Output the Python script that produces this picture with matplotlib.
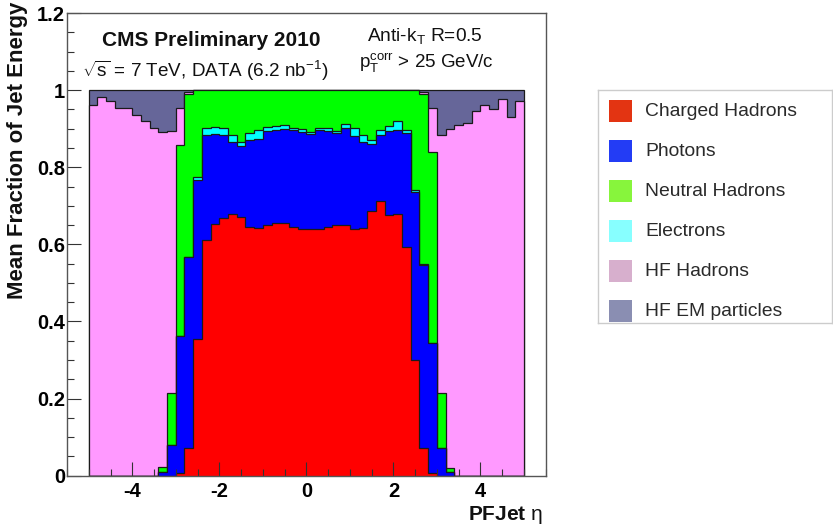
import numpy as np
import matplotlib
matplotlib.use("Agg")
import matplotlib.pyplot as plt
from matplotlib.patches import Rectangle

plt.rcParams['font.family'] = ['Liberation Sans', 'DejaVu Sans']
plt.rcParams['mathtext.fontset'] = 'custom'
plt.rcParams['mathtext.rm'] = 'Liberation Sans'
plt.rcParams['mathtext.it'] = 'Liberation Sans'
plt.rcParams['mathtext.bf'] = 'Liberation Sans:bold'
plt.rcParams['axes.unicode_minus'] = False

# ---- data: 50 bins of width 0.2 from eta=-5 to 5 ----
bin_edges = np.round(np.arange(-5.0, 5.0001, 0.2), 2)

charged_hadrons = [0, 0, 0, 0, 0, 0, 0, 0, 0, 0,
                   0.006, 0.071, 0.354, 0.611, 0.653, 0.669, 0.680, 0.671, 0.644, 0.642,
                   0.649, 0.655, 0.655, 0.644, 0.640, 0.640, 0.639, 0.644, 0.651, 0.651,
                   0.639, 0.642, 0.687, 0.712, 0.675, 0.679, 0.594, 0.300, 0.071, 0.006,
                   0, 0, 0, 0, 0, 0, 0, 0, 0, 0]
photons = [0, 0, 0, 0, 0, 0, 0, 0, 0.010, 0.080,
           0.356, 0.497, 0.413, 0.273, 0.233, 0.215, 0.186, 0.184, 0.227, 0.231,
           0.245, 0.242, 0.244, 0.253, 0.252, 0.245, 0.258, 0.251, 0.237, 0.251,
           0.243, 0.224, 0.173, 0.172, 0.219, 0.218, 0.296, 0.437, 0.475, 0.337,
           0.071, 0.010, 0, 0, 0, 0, 0, 0, 0, 0]
electrons = [0, 0, 0, 0, 0, 0, 0, 0, 0, 0,
             0, 0, 0.007, 0.018, 0.019, 0.018, 0.018, 0.011, 0.017, 0.024,
             0.011, 0.011, 0.010, 0.006, 0.006, 0.007, 0.004, 0.006, 0.007, 0.009,
             0.019, 0.018, 0.011, 0.013, 0.014, 0.024, 0.007, 0.003, 0.002, 0,
             0, 0, 0, 0, 0, 0, 0, 0, 0, 0]
neutral_hadrons = [0, 0, 0, 0, 0, 0, 0, 0, 0.013, 0.134,
                   0.496, 0.421, 0.226, 0.098, 0.095, 0.098, 0.116, 0.134, 0.112, 0.103,
                   0.095, 0.092, 0.091, 0.097, 0.102, 0.108, 0.099, 0.099, 0.105, 0.089,
                   0.099, 0.116, 0.129, 0.103, 0.092, 0.079, 0.103, 0.260, 0.441, 0.497,
                   0.143, 0.009, 0, 0, 0, 0, 0, 0, 0, 0]
hf_hadrons = [0.961, 0.983, 0.972, 0.953, 0.954, 0.935, 0.920, 0.901, 0.868, 0.680,
              0.096, 0.006, 0, 0, 0, 0, 0, 0, 0, 0,
              0, 0, 0, 0, 0, 0, 0, 0, 0, 0,
              0, 0, 0, 0, 0, 0, 0, 0, 0.006, 0.114,
              0.670, 0.881, 0.909, 0.916, 0.945, 0.961, 0.950, 0.978, 0.929, 0.971]
hf_em = [0.039, 0.017, 0.028, 0.047, 0.046, 0.065, 0.080, 0.099, 0.109, 0.106,
         0.046, 0.005, 0, 0, 0, 0, 0, 0, 0, 0,
         0, 0, 0, 0, 0, 0, 0, 0, 0, 0,
         0, 0, 0, 0, 0, 0, 0, 0, 0.005, 0.046,
         0.116, 0.100, 0.091, 0.084, 0.055, 0.039, 0.050, 0.022, 0.071, 0.029]

stack_order = [charged_hadrons, photons, electrons, neutral_hadrons, hf_hadrons, hf_em]
hist_colors = ['#FF0000', '#0000FF', '#00FFFF', '#00FF00', '#FF99FF', '#666699']

legend_labels = ['Charged Hadrons', 'Photons', 'Neutral Hadrons', 'Electrons',
                 'HF Hadrons', 'HF EM particles']
legend_colors = ['#E33412', '#233CF5', '#87F53C', '#87FFFF', '#D7AFCD', '#8A8EB2']

xticks = [-4, -2, 0, 2, 4]
yticks = [0, 0.2, 0.4, 0.6, 0.8, 1.0, 1.2]
ytick_labels = ['0', '0.2', '0.4', '0.6', '0.8', '1', '1.2']

# ---- figure ----
W, H = 833, 532
fig = plt.figure(figsize=(W / 100, H / 100), dpi=100)

def fx(px):
    return px / W

def fy(py):
    return 1 - py / H

ax_l, ax_r, ax_t, ax_b = 67, 545.7, 13, 475.7
ax = fig.add_axes([fx(ax_l), fy(ax_b), fx(ax_r - ax_l), (ax_b - ax_t) / H])

cum = np.cumsum(np.array(stack_order, dtype=float), axis=0)
# draw like a THStack: top-most cumulative first, each filled from 0
for k in range(len(stack_order) - 1, -1, -1):
    ax.stairs(cum[k], bin_edges, baseline=0, fill=True,
              facecolor=hist_colors[k], edgecolor='#1a1a1a', linewidth=0.9)

ax.set_xlim(-5.5, 5.5)
ax.set_ylim(0, 1.2)
ax.set_xticks(xticks)
ax.set_xticklabels([str(t) for t in xticks])
ax.set_yticks(yticks)
ax.set_yticklabels(ytick_labels)
ax.set_xticks(np.arange(-5.5, 5.51, 0.5), minor=True)
ax.set_yticks(np.arange(0, 1.201, 0.05), minor=True)
ax.tick_params(which='major', direction='in', length=10, width=0.8, color='#333333',
               labelsize=14.5, top=False, right=False)
ax.tick_params(axis='x', which='major', pad=4.5)
ax.tick_params(axis='y', which='major', pad=1.5)
ax.tick_params(which='minor', direction='in', length=5, width=0.8, color='#333333',
               top=False, right=False)
for lab in ax.get_xticklabels() + ax.get_yticklabels():
    lab.set_fontweight('bold')
for s in ax.spines.values():
    s.set_color('#555555')
    s.set_linewidth(1.0)

# texts
fig.text(fx(211), fy(40), 'CMS Preliminary 2010', ha='center', va='center',
         fontsize=15, fontweight='bold', color='#111111')
fig.text(fx(82), fy(71), r'$\sqrt{s}$ = 7 TeV, DATA (6.2 nb$^{-1}$)', ha='left', va='center',
         fontsize=13.6, color='#111111')
fig.text(fx(425), fy(36), r'Anti-k$_{T}$ R=0.5', ha='center', va='center',
         fontsize=13.8, color='#111111')
fig.text(fx(426), fy(63), r'p$_{T}^{corr}$ > 25 GeV/c', ha='center', va='center',
         fontsize=13.5, color='#111111')

fig.text(fx(18), fy(2), 'Mean Fraction of Jet Energy', rotation=90, ha='center', va='top',
         fontsize=16, fontweight='bold', color='#111111')
fig.text(fx(543), fy(515), r'PFJet $\eta$', ha='right', va='center',
         fontsize=15, fontweight='bold', color='#111111')

# legend box
lx0, lx1, ly0, ly1 = 598, 832, 90, 323
lax = fig.add_axes([fx(lx0), fy(ly1), fx(lx1 - lx0), (ly1 - ly0) / H])
lax.set_xlim(lx0, lx1)
lax.set_ylim(ly1, ly0)
lax.set_xticks([])
lax.set_yticks([])
for s in lax.spines.values():
    s.set_color('#cccccc')
    s.set_linewidth(1.0)
for i, (lab, col) in enumerate(zip(legend_labels, legend_colors)):
    yc = 110.7 + 40 * i
    lax.add_patch(Rectangle((609.5, yc - 11), 22.5, 22, facecolor=col, edgecolor='none'))
    lax.text(645, yc + 1, lab, ha='left', va='center', fontsize=13.9, color='#2a2a2a')

fig.savefig('out.png', dpi=100)
